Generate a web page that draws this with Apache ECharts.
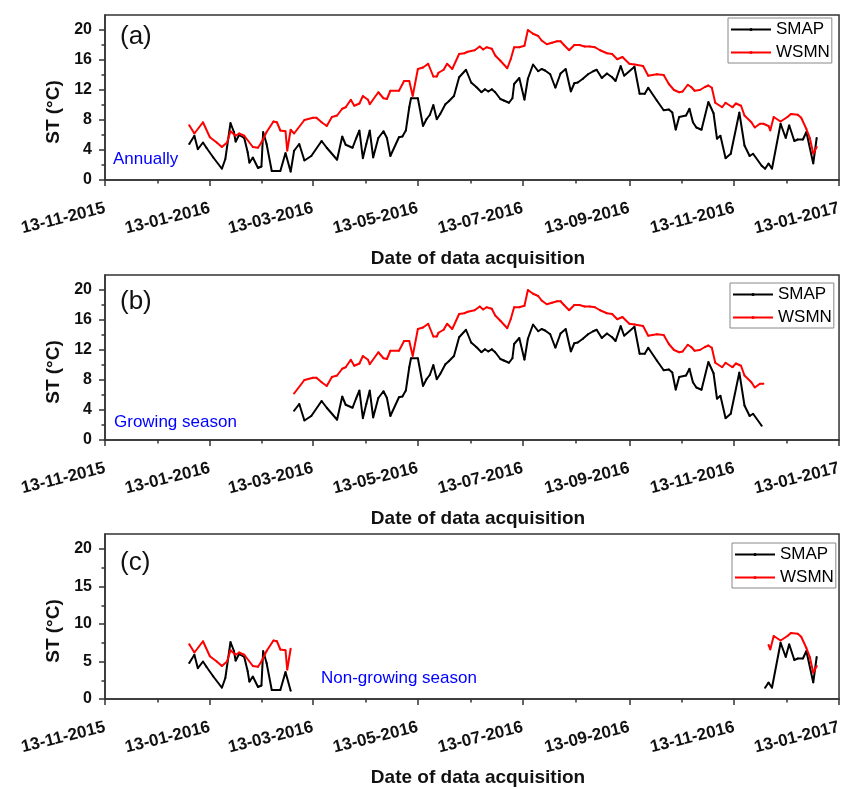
<!DOCTYPE html>
<html><head><meta charset="utf-8">
<script src="https://cdn.jsdelivr.net/npm/echarts@6/dist/echarts.min.js"></script>
<style>html,body{margin:0;padding:0;background:#fff}#c{width:844px;height:789px}</style>
</head><body><div id="c"></div>
<script>
// ---------------- data ----------------
const tickLabels = ['13-11-2015','13-01-2016','13-03-2016','13-05-2016','13-07-2016','13-09-2016','13-11-2016','13-01-2017'];
// day of year 2016 of each acquisition
const smapDoy = [1,4,6,9,11,15,20,22,25,27,28,30,33,35,36,38,41,43,44,46,49,51,54,57,60,
  62,65,68,72,78,81,87,90,92,96,98,100,102,104,106,108,111,114,116,118,123,125,127,129,130,
  134,137,139,141,143,145,147,150,152,155,158,162,165,168,171,173,175,177,179,182,184,187,189,190,
  193,196,198,201,204,206,208,211,214,217,220,223,225,227,230,233,236,238,241,244,247,249,252,254,
  260,263,266,268,273,277,280,282,284,286,290,292,294,296,299,303,306,308,310,313,316,321,324,327,329,334,
  336,338,340,345,348,350,353,355,358,360,364,366];
const smapVal = [4.8,5.9,4.1,5.0,4.3,3.0,1.5,2.8,7.6,6.4,5.1,6.0,5.6,3.7,2.3,3.0,1.6,1.8,6.4,4.8,1.2,1.2,1.2,3.6,1.1,
  3.9,4.8,2.6,3.2,5.2,4.3,2.7,5.8,4.7,4.3,5.5,6.6,2.9,4.8,6.6,3.0,5.6,6.5,5.6,3.2,5.7,5.8,6.6,9.7,10.9,
  10.9,7.2,8.1,8.7,10.0,8.1,8.8,10.1,10.5,11.2,13.7,14.7,13.0,12.4,11.7,12.1,11.8,12.1,11.7,10.8,10.6,10.3,10.9,12.8,
  13.6,10.7,13.5,15.4,14.5,14.8,14.6,14.1,12.3,14.2,14.8,11.8,12.9,13.0,13.5,14.1,14.5,14.7,13.6,14.2,13.7,13.2,15.2,13.9,
  15.1,11.5,11.5,12.3,10.6,9.3,9.4,9.0,6.7,8.4,8.6,9.5,7.7,7.0,6.7,10.4,8.9,5.5,5.9,2.9,3.5,9.0,4.6,3.2,3.5,1.9,
  1.5,2.2,1.5,7.5,5.6,7.3,5.2,5.4,5.4,6.4,2.2,5.6];
const wsmnDoy = [1,4,9,13,17,20,23,25,28,30,33,38,41,43,46,50,52,54,57,58,60,
  62,68,73,75,78,81,84,87,90,92,95,97,100,102,105,106,111,114,116,118,123,126,129,131,134,137,140,143,145,146,149,151,154,
  158,161,163,167,170,172,174,177,179,182,186,188,190,193,196,198,201,204,206,209,212,215,217,219,222,225,228,231,234,237,240,
  244,247,250,253,257,260,265,268,273,277,280,283,286,288,291,293,295,298,301,303,305,307,311,313,317,319,322,324,328,330,333,335,
  338,339,341,345,349,351,355,357,360,362,364,366];
const wsmnVal = [7.3,6.2,7.7,5.7,5.0,4.4,5.0,6.5,5.9,6.2,5.9,4.4,4.3,5.0,6.4,7.8,7.7,6.6,6.5,3.9,6.7,
  6.2,8.0,8.3,8.3,7.7,7.2,8.4,8.6,9.5,9.7,10.7,9.9,10.2,11.2,10.7,10.1,11.7,10.9,10.8,11.9,11.9,13.2,13.2,11.2,14.8,15.0,15.5,13.8,13.8,14.3,14.7,15.5,14.8,
  16.8,16.9,17.1,17.3,17.8,17.4,17.7,17.5,16.6,15.9,14.9,16.1,17.7,17.7,17.9,20.0,19.5,19.2,18.6,18.1,18.3,18.5,18.5,18.0,17.3,18.0,18.0,17.8,17.8,17.7,17.3,
  16.9,16.8,16.1,16.4,15.5,15.4,15.2,13.9,14.1,14.0,12.8,12.0,11.7,11.8,12.7,12.4,11.9,12.0,12.4,12.6,12.3,10.3,9.7,10.3,9.7,10.2,9.9,8.6,7.7,7.0,7.5,7.5,
  7.2,6.6,8.4,7.8,8.4,8.8,8.7,8.3,6.8,5.6,3.5,4.4];
const growingFirstDoy = 61;   // 1 Mar 2016
const growingLastDoy = 335;   // 30 Nov 2016
const yTicksAB = [0,4,8,12,16,20];
const yMinorAB = [2,6,10,14,18];
const yTicksC = [0,5,10,15,20];
const yMinorC = [2.5,7.5,12.5,17.5];
const panelLabels = ['(a)','(b)','(c)'];
const seasonLabels = ['Annually','Growing season','Non-growing season'];
const seriesNames = ['SMAP','WSMN'];

// ---------------- helpers ----------------
const DAY = 86400000;
const FONT = "'Liberation Sans', Arial, Helvetica, sans-serif";
function parseLabel(s){ const p = s.split('-').map(Number); return Date.UTC(p[2], p[1]-1, p[0]); }
function doyTs(d){ return Date.UTC(2016,0,1) + (d-1)*DAY; }
const majorTs = tickLabels.map(parseLabel);
const minorTs = majorTs.slice(1).map((t,i)=> (t + majorTs[i])/2);
const xMin = majorTs[0], xMax = majorTs[majorTs.length-1];
function fmtX(v){ const i = majorTs.indexOf(v); return i>=0 ? tickLabels[i] : ''; }

function pts(doys, vals, filter){
  const out = [];
  let prevIn = null;
  doys.forEach((d,i)=>{
    if (!filter || filter(d)) {
      if (prevIn !== null && d - prevIn > 30) out.push([ (doyTs(prevIn)+doyTs(d))/2, null ]);
      out.push([doyTs(d), vals[i]]);
      prevIn = d;
    }
  });
  return out;
}
const isGrowing = d => d >= growingFirstDoy && d <= growingLastDoy;
const isNonGrowing = d => !isGrowing(d);
const filters = [null, isGrowing, isNonGrowing];

const gridTops = [15, 275, 534];
const gridH = 165;
const AX = '#333';

const grid = gridTops.map(t => ({left:105, right:1, top:t, height:gridH, show:true, borderColor:AX, borderWidth:1.5, backgroundColor:'transparent'}));
const xAxis = [], yAxis = [], series = [], legend = [], graphic = [];
gridTops.forEach((t, i) => {
  xAxis.push({type:'value', gridIndex:i, min:xMin, max:xMax, position:'bottom',
    axisLine:{show:true, onZero:false, lineStyle:{color:AX, width:1.5}},
    axisTick:{show:true, customValues:majorTs, length:6, lineStyle:{color:AX, width:1.5}},
    axisLabel:{show:true, customValues:majorTs, formatter:fmtX, rotate:14, margin:28, fontSize:17, fontWeight:'bold', color:'#111', fontFamily:FONT},
    splitLine:{show:false},
    name:'Date of data acquisition', nameLocation:'middle', nameGap:69,
    nameTextStyle:{fontSize:19, fontWeight:'bold', color:'#111', fontFamily:FONT, padding:[0,0,0,12]}});
  xAxis.push({type:'value', gridIndex:i, min:xMin, max:xMax, position:'bottom',
    axisLine:{show:false, onZero:false}, axisTick:{show:true, customValues:minorTs, length:3.5, lineStyle:{color:AX, width:1.5}},
    axisLabel:{show:false}, splitLine:{show:false}});
  const maj = i===2 ? yTicksC : yTicksAB, mnr = i===2 ? yMinorC : yMinorAB;
  yAxis.push({type:'value', gridIndex:i, min:0, max:22, position:'left',
    axisLine:{show:true, onZero:false, lineStyle:{color:AX, width:1.5}},
    axisTick:{show:true, customValues:maj, length:6, lineStyle:{color:AX, width:1.5}},
    axisLabel:{show:true, customValues:maj, margin:13, fontSize:16, fontWeight:'bold', color:'#111', fontFamily:FONT},
    splitLine:{show:false},
    name:'ST (°C)', nameLocation:'middle', nameGap:41,
    nameTextStyle:{fontSize:19, fontWeight:'bold', color:'#111', fontFamily:FONT, padding:[0,29,0,0]}});
  yAxis.push({type:'value', gridIndex:i, min:0, max:22, position:'left',
    axisLine:{show:false, onZero:false}, axisTick:{show:true, customValues:mnr, length:3.5, lineStyle:{color:AX, width:1.5}},
    axisLabel:{show:false}, splitLine:{show:false}});
  series.push({name:seriesNames[0], type:'line', xAxisIndex:2*i, yAxisIndex:2*i, data:pts(smapDoy, smapVal, filters[i]),
    symbol:'circle', symbolSize:2, showSymbol:true, connectNulls:false, color:'#000', lineStyle:{color:'#000', width:2}, itemStyle:{color:'#000'}, animation:false, z:2});
  series.push({name:seriesNames[1], type:'line', xAxisIndex:2*i, yAxisIndex:2*i, data:pts(wsmnDoy, wsmnVal, filters[i]),
    symbol:'circle', symbolSize:2, showSymbol:true, connectNulls:false, color:'#ff0000', lineStyle:{color:'#ff0000', width:2}, itemStyle:{color:'#ff0000'}, animation:false, z:3});
  const lgPos = [[728,18],[730,283],[732,543]][i];
  legend.push({data:seriesNames, orient:'vertical', left:lgPos[0], top:lgPos[1], itemWidth:40, itemHeight:4, itemGap:6, itemTextGap:3,
    padding:[3,2,2,2], borderColor:'#888', borderWidth:1, backgroundColor:'#fff',
    textStyle:{fontSize:17, color:'#000', fontFamily:FONT}, selectedMode:false});
  graphic.push({type:'text', left:120, top:[24,289,550][i], style:{text:panelLabels[i], fontSize:26, fill:'#111', fontFamily:FONT}});
  graphic.push({type:'text', left:[113,114,321][i], top:[151,414,670][i], style:{text:seasonLabels[i], fontSize:17, fill:'#0000ff', fontFamily:FONT}});
});

const chart = echarts.init(document.getElementById('c'), null, {renderer:'canvas'});
chart.setOption({animation:false, backgroundColor:'#fff', grid, xAxis, yAxis, series, legend, graphic});
</script></body></html>
